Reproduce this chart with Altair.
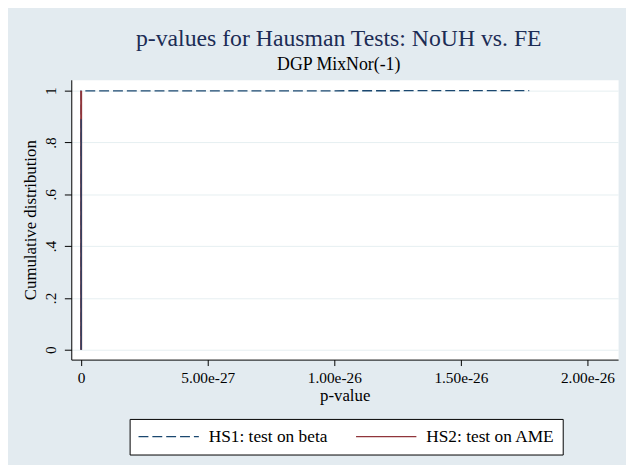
import altair as alt
import pandas as pd

# ---- data ----
series_names = ["HS1: test on beta", "HS2: test on AME"]
hs1_p = [0.0, 0.0, 0.0, 1.77e-26]
hs1_cdf = [0.0, 0.89, 0.999, 1.0]
hs2_p = [0.0, 0.0, 0.0]
hs2_cdf = [0.0, 0.999, 1.0]
x_ticks = [0.0, 5e-27, 1e-26, 1.5e-26, 2e-26]
y_ticks = [0.0, 0.2, 0.4, 0.6, 0.8, 1.0]

rows = []
for i, (p, c) in enumerate(zip(hs1_p, hs1_cdf)):
    rows.append({"series": series_names[0], "p": p, "cdf": c, "o": i})
for i, (p, c) in enumerate(zip(hs2_p, hs2_cdf)):
    rows.append({"series": series_names[1], "p": p, "cdf": c, "o": i})
df = pd.DataFrame(rows)

FONT = "Liberation Serif"
BLUE = "#1a476f"
RED = "#90353b"
BG = "#e3ebf0"

x_enc = alt.X(
    "p:Q",
    scale=alt.Scale(domain=[-3.9e-28, 2.121e-26], nice=False, zero=False),
    axis=alt.Axis(
        values=x_ticks,
        labelExpr="datum.value == 0 ? '0' : format(datum.value, '.2e')",
        title="p-value",
        grid=False,
        tickSize=6,
        labelPadding=5,
        titlePadding=2,
    ),
)
y_enc = alt.Y(
    "cdf:Q",
    scale=alt.Scale(domain=[-0.038, 1.042], nice=False, zero=False),
    axis=alt.Axis(
        values=y_ticks,
        labelExpr="datum.value == 0 ? '0' : (datum.value == 1 ? '1' : '.' + round(datum.value * 10))",
        title="Cumulative distribution",
        labelAngle=270,
        labelAlign="center",
        labelBaseline="bottom",
        tickSize=7,
        labelPadding=6,
        titlePadding=4,
        grid=True,
    ),
)
color_enc = alt.Color(
    "series:N",
    scale=alt.Scale(domain=series_names, range=[BLUE, RED]),
    title=None,
    legend=alt.Legend(
        orient="none",
        legendX=59,
        legendY=343,
        direction="horizontal",
        symbolType="stroke",
        symbolSize=3721,
        symbolStrokeWidth=1.3,
        clipHeight=20,
        labelFont=FONT,
        labelFontSize=17.5,
        labelColor="black",
        labelOffset=9,
        columnPadding=27,
        fillColor="white",
        strokeColor="black",
        padding=8,
        labelLimit=300,
    ),
)
dash_enc = alt.StrokeDash(
    "series:N",
    scale=alt.Scale(domain=series_names, range=[[10, 4], [1, 0]]),
    title=None,
)

base = alt.Chart(df)

hs1_dashed = base.transform_filter(alt.datum.series == series_names[0]).mark_line(strokeWidth=1.3).encode(
    x=x_enc, y=y_enc, color=color_enc, strokeDash=dash_enc, order="o:Q"
)
hs2_line = base.transform_filter(alt.datum.series == series_names[1]).mark_line(strokeWidth=2).encode(
    x=x_enc, y=y_enc, color=color_enc, strokeDash=dash_enc, order="o:Q"
)
hs1_dense = base.transform_filter(
    (alt.datum.series == series_names[0]) & (alt.datum.cdf <= 0.89)
).mark_line(strokeWidth=1.2).encode(
    x=x_enc, y=y_enc, color=color_enc, strokeDash=alt.value([1, 0]), order="o:Q"
)

chart = (
    alt.layer(hs1_dashed, hs2_line, hs1_dense)
    .properties(
        width=553,
        height=283,
        autosize=alt.AutoSizeParams(type="none"),
        padding={"left": 64, "top": 70, "right": 8, "bottom": 104},
        background=BG,
        title=alt.Title(
            text="p-values for Hausman Tests: NoUH vs. FE",
            subtitle="DGP MixNor(-1)",
            font=FONT,
            fontSize=24,
            fontWeight="normal",
            color="#1c2c55",
            subtitleFont=FONT,
            subtitleFontSize=18,
            subtitleColor="black",
            subtitlePadding=5,
            anchor="middle",
            offset=6,
            dx=-6,
        ),
    )
    .configure(font=FONT)
    .configure_title(font=FONT, subtitleFont=FONT)
    .configure_legend(labelFont=FONT)
    .configure_view(fill="white", stroke="transparent")
    .configure_axis(
        labelFont=FONT,
        titleFont=FONT,
        labelFontSize=15.5,
        titleFontSize=17,
        titleFontWeight="normal",
        labelColor="black",
        titleColor="black",
        domainColor="black",
        tickColor="black",
        domainWidth=1,
        tickWidth=1,
        gridColor="#e6eff1",
        gridWidth=1,
    )
)

chart.save("out.html", embed_options={"renderer": "svg", "actions": False})
